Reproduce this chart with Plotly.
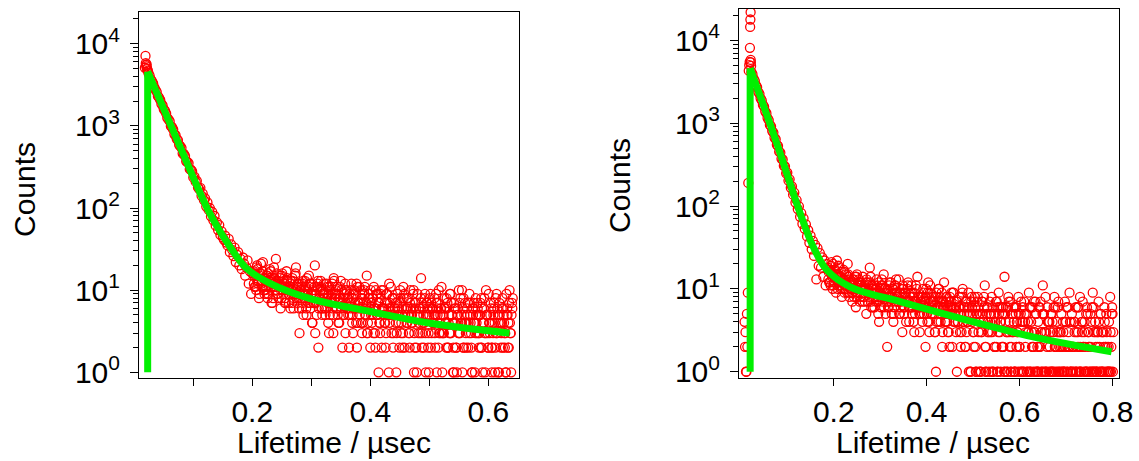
import plotly.graph_objects as go

# ---------------- data: left panel ----------------
left_peak_t = [0.0180, 0.0190, 0.0195, 0.0200, 0.0205, 0.0210, 0.0215, 0.0220, 0.0230, 0.0240]
left_peak_counts = [5100, 7100, 5800, 5500, 5300, 5600, 5000, 4900, 4700, 4400]

left_t_start = 0.026
left_t_step = 0.002
left_counts = [
    4080, 3690, 3510, 3280, 2930, 2740, 2600, 2300, 2210, 2070,
    1850, 1770, 1590, 1530, 1420, 1250, 1200, 1140, 990, 962,
    905, 790, 771, 690, 672, 588, 566, 540, 461, 455,
    430, 371, 364, 352, 297, 293, 281, 236, 241, 209,
    214, 178, 170, 176, 141, 150, 125, 131, 104, 117,
    95, 100, 79, 90, 71, 80, 61, 67, 54, 62,
    47, 52, 44, 41, 46, 38, 35, 42, 29, 36,
    31, 26, 33, 22, 27, 29, 20, 24, 18, 25,
    21, 15, 19, 23, 12, 17, 9, 16,
    17, 11, 15, 20, 12, 9, 16, 13, 22, 14,
    10, 15, 8, 13, 18, 11, 7, 14, 12, 24,
    9, 13, 11, 6, 15, 10, 12, 8, 17, 11,
    7, 12, 10, 14, 6, 9, 19, 11, 8, 3,
    10, 6, 13, 8, 11, 5, 9, 15, 7, 12,
    4, 9, 20, 7, 11, 2, 8, 13, 6, 10,
    9, 5, 12, 7, 3, 10, 8, 6, 14, 9,
    6, 11, 4, 8, 13, 7, 5, 9, 3, 10,
    8, 2, 7, 12, 5, 9, 6, 4, 11, 7,
    5, 10, 3, 7, 9, 6, 15, 4, 8, 2,
    7, 5, 11, 3, 6, 9, 1, 4, 8, 6,
    10, 4, 2, 7, 5, 12, 6, 3, 8, 5,
    6, 1, 9, 4, 7, 3, 5, 11, 2, 6,
    8, 5, 3, 10, 4, 6, 1, 7, 2, 9,
    4, 6, 14, 3, 5, 8, 1, 7, 2, 5,
    9, 3, 6, 4, 2, 7, 5, 10, 3, 6,
    1, 5, 8, 4, 6, 2, 3, 9, 5, 1,
    7, 4, 2, 6, 10, 3, 5, 1, 8, 4,
    3, 6, 2, 9, 4, 1, 5, 7, 3, 4,
    6, 2, 5, 8, 1, 4, 3, 10, 5, 2,
    4, 7, 1, 3, 6, 2, 9, 5, 1, 4,
    3, 8, 5, 2, 1, 6, 4, 10, 3, 7,
]

# extra interleaved tail channels (left)
left_tail_step = 0.002
left_tail_b_start = 0.20267
left_tail_b_counts = [
    12, 16, 10, 18, 13, 15, 21, 11, 14, 9,
    13, 9, 16, 11, 14, 7, 12, 19, 10, 13,
    12, 8, 14, 10, 16, 9, 11, 7, 13, 10,
    11, 6, 9, 13, 8, 15, 10, 7, 12, 9,
    8, 12, 5, 10, 9, 14, 7, 11, 6, 9,
    10, 7, 3, 9, 12, 6, 8, 11, 5, 9,
    6, 10, 8, 4, 11, 7, 9, 5, 13, 8,
    9, 5, 7, 11, 6, 2, 8, 10, 7, 6,
    5, 9, 6, 8, 3, 10, 7, 12, 4, 6,
    7, 4, 9, 6, 11, 5, 3, 8, 6, 10,
    4, 8, 6, 2, 9, 5, 7, 3, 10, 6,
    5, 7, 3, 9, 6, 4, 11, 5, 2, 8,
    7, 3, 6, 5, 10, 4, 2, 8, 5, 6,
    4, 8, 2, 6, 5, 9, 3, 7, 1, 5,
    6, 3, 7, 4, 2, 9, 5, 6, 3, 8,
    2, 6, 4, 8, 5, 1, 7, 3, 5, 11,
    5, 3, 6, 2, 7, 4, 9, 3, 5, 2,
    4, 6, 1, 5, 3, 8, 4, 6, 2, 7,
    2, 5, 4, 7, 3, 1, 6, 4, 8, 3,
    5, 3, 7, 2, 4, 6, 1, 5, 3, 9,
    3, 6, 2, 5, 4, 8, 3, 1, 7, 4,
    6, 2, 4, 3, 9, 5, 2, 4, 1, 6,
]
left_tail_c_start = 0.20333
left_tail_c_counts = [
    15, 11, 19, 13, 8, 16, 12, 17, 10, 14,
    11, 15, 9, 13, 17, 12, 8, 14, 11, 16,
    9, 12, 15, 8, 11, 13, 7, 10, 14, 9,
    10, 13, 7, 11, 9, 16, 8, 12, 6, 10,
    11, 7, 9, 13, 6, 10, 8, 12, 9, 4,
    7, 11, 9, 5, 13, 8, 10, 6, 9, 12,
    8, 6, 11, 9, 5, 7, 12, 3, 8, 10,
    6, 9, 4, 8, 10, 7, 5, 12, 6, 8,
    7, 5, 10, 4, 8, 6, 9, 2, 7, 11,
    6, 8, 4, 10, 5, 7, 3, 9, 6, 5,
    8, 3, 6, 10, 5, 7, 4, 9, 2, 6,
    6, 4, 9, 5, 1, 7, 5, 8, 3, 6,
    4, 7, 5, 2, 8, 6, 3, 9, 5, 4,
    6, 3, 7, 5, 4, 10, 2, 6, 5, 3,
    5, 8, 2, 6, 4, 3, 7, 5, 1, 6,
    7, 4, 5, 3, 9, 6, 2, 4, 6, 3,
    3, 6, 4, 8, 2, 5, 3, 7, 4, 1,
    6, 2, 5, 3, 7, 4, 10, 2, 5, 4,
    4, 7, 3, 5, 2, 6, 4, 1, 5, 7,
    3, 5, 2, 6, 4, 8, 3, 5, 2, 4,
    5, 2, 4, 7, 1, 3, 6, 4, 5, 2,
    4, 6, 3, 1, 5, 2, 7, 3, 5, 8,
]

left_rise_t = [0.0227, 0.0227]
left_rise_counts = [1, 4570]
left_fit_t = [0.0227, 0.0775, 0.128, 0.162, 0.19, 0.23, 0.298, 0.40, 0.502, 0.636]
left_fit_counts = [4570, 560, 86, 34, 18.5, 12.1, 7.9, 5.5, 3.95, 3.0]

# ---------------- data: right panel ----------------
right_peak_t = [0.008, 0.009, 0.010, 0.011, 0.012, 0.013, 0.014, 0.015, 0.016, 0.017,
                0.018, 0.019, 0.0195, 0.020, 0.0205, 0.021, 0.0212, 0.0215, 0.022]
right_peak_counts = [4, 2, 3, 1, 1, 5, 2, 9, 190, 4300,
                     5000, 5500, 8100, 14500, 17800, 21800, 5800, 5400, 4900]

right_t_start = 0.0225
right_t_step = 0.0025
right_counts = [
    4150, 3900, 3450, 3240, 2880, 2710, 2390, 2260, 1990, 1880,
    1660, 1580, 1390, 1320, 1150, 1090, 950, 915, 801, 770,
    664, 640, 548, 531, 452, 440, 371, 365, 305, 301,
    248, 252, 203, 210, 166, 172, 137, 145, 110, 118,
    92, 99, 74, 82, 61, 71, 53, 60, 43, 51,
    36, 44, 30, 38, 25, 34, 13, 31, 19, 27,
    18, 24, 14, 22, 11, 20,
    18, 12, 16, 21, 10, 14, 17, 9, 15, 19,
    11, 14, 8, 13, 16, 10, 12, 20, 9, 13,
    10, 7, 13, 11, 6, 15, 9, 12, 8, 11,
    14, 8, 10, 5, 12, 9, 18, 7, 11, 9,
    6, 10, 13, 8, 4, 9, 11, 7, 15, 8,
    9, 2, 7, 12, 8, 5, 10, 6, 11, 9,
    7, 13, 5, 8, 3, 10, 6, 9, 7, 12,
    4, 8, 11, 6, 9, 5, 7, 14, 6, 3,
    8, 5, 10, 7, 2, 6, 9, 4, 11, 7,
    5, 8, 3, 1, 7, 10, 6, 4, 9, 6,
    12, 4, 7, 5, 3, 8, 6, 2, 9, 5,
    6, 1, 4, 8, 5, 3, 10, 6, 2, 7,
    4, 9, 5, 1, 6, 3, 7, 2, 5, 8,
    1, 5, 3, 7, 4, 11, 2, 6, 4, 5,
    3, 8, 1, 5, 4, 2, 6, 9, 3, 4,
    5, 2, 14, 4, 1, 6, 3, 7, 2, 5,
    4, 1, 6, 3, 8, 2, 5, 1, 4, 7,
    2, 5, 3, 9, 1, 4, 6, 2, 3, 5,
    1, 4, 2, 7, 3, 11, 5, 1, 3, 6,
    4, 2, 5, 1, 3, 8, 2, 4, 6, 1,
    3, 5, 2, 1, 7, 4, 2, 3, 9, 1,
    5, 2, 4, 1, 3, 6, 2, 8, 1, 4,
    2, 4, 1, 6, 3, 2, 5, 1, 9, 3,
    4, 1, 3, 7, 2, 5, 1, 3, 6, 2,
    3, 1, 4, 8, 2, 5,
]

# extra interleaved tail channels (right)
right_tail_step = 0.0025
right_tail_b_start = 0.18833
right_tail_b_counts = [
    13, 17, 11, 15, 20, 12, 16, 14, 10, 18,
    14, 10, 12, 17, 9, 13, 11, 15, 8, 12,
    11, 13, 8, 10, 14, 9, 12, 7, 11, 10,
    8, 11, 10, 13, 7, 9, 12, 6, 10, 8,
    9, 7, 11, 5, 10, 8, 13, 9, 6, 10,
    7, 10, 6, 9, 12, 8, 4, 11, 7, 9,
    8, 5, 9, 7, 11, 6, 8, 4, 10, 7,
    6, 9, 5, 8, 3, 7, 10, 6, 8, 5,
    7, 4, 9, 6, 8, 5, 12, 3, 7, 6,
    5, 7, 3, 9, 6, 4, 8, 6, 2, 7,
    6, 4, 8, 3, 7, 5, 9, 6, 4, 5,
    3, 7, 5, 6, 2, 8, 4, 5, 7, 3,
    6, 1, 5, 7, 4, 3, 8, 1, 5, 6,
    4, 1, 3, 5, 8, 2, 1, 6, 3, 7,
    5, 3, 1, 2, 4, 7, 1, 5, 4, 6,
    2, 5, 1, 6, 3, 8, 4, 1, 5, 3,
    1, 6, 2, 3, 5, 1, 7, 4, 1, 5,
    3, 1, 4, 1, 6, 3, 2, 7, 1, 5,
    2, 1, 6, 3, 1, 5, 3, 8, 1, 4,
    1, 3, 1, 4, 6, 2, 1, 3, 7, 2,
    3, 1, 4, 1, 2, 6, 1, 2, 4, 1,
    2, 1, 3, 6, 1, 3, 1, 2, 4, 7,
    1, 2, 5, 1, 3, 1, 2, 6, 1, 1,
    3, 1, 2, 4, 1, 3, 1, 2, 4, 1,
    2, 1, 1, 3, 5, 1,
]
right_tail_c_start = 0.18917
right_tail_c_counts = [
    16, 12, 19, 14, 11, 17, 13, 22, 15, 12,
    12, 16, 10, 13, 11, 15, 9, 14, 12, 10,
    9, 12, 10, 14, 8, 11, 13, 9, 12, 7,
    10, 7, 12, 9, 11, 8, 14, 10, 6, 11,
    8, 10, 7, 12, 9, 6, 11, 8, 10, 5,
    9, 6, 11, 8, 7, 10, 5, 9, 13, 8,
    7, 9, 6, 10, 8, 5, 9, 7, 11, 6,
    8, 6, 9, 4, 7, 11, 6, 8, 5, 7,
    6, 8, 5, 7, 10, 4, 6, 9, 5, 8,
    7, 5, 8, 4, 6, 10, 5, 7, 3, 6,
    5, 8, 4, 6, 2, 7, 5, 9, 6, 4,
    7, 4, 6, 3, 5, 9, 4, 6, 2, 5,
    4, 6, 1, 8, 5, 2, 6, 1, 7, 3,
    5, 1, 7, 4, 6, 1, 5, 3, 1, 4,
    1, 6, 4, 2, 7, 1, 3, 6, 1, 2,
    6, 1, 5, 3, 1, 7, 2, 1, 3, 6,
    1, 5, 4, 1, 2, 4, 1, 6, 1, 4,
    5, 1, 3, 6, 1, 2, 1, 3, 7, 1,
    1, 6, 2, 1, 5, 1, 3, 1, 2, 4,
    4, 1, 5, 1, 1, 6, 2, 1, 3, 1,
    2, 1, 3, 1, 4, 1, 6, 2, 1, 4,
    1, 2, 4, 1, 2, 6, 1, 1, 3, 2,
    3, 1, 1, 5, 2, 1, 4, 1, 6, 1,
    2, 1, 3, 1, 5, 1, 3, 1, 2, 5,
    1, 2, 1, 1, 6, 3,
]

right_rise_t = [0.020, 0.020]
right_rise_counts = [1, 4600]
right_fit_t = [0.020, 0.0774, 0.1275, 0.156, 0.185, 0.235, 0.343, 0.486, 0.629, 0.798]
right_fit_counts = [4600, 571, 82, 32, 16.9, 10.6, 7.0, 4.2, 2.64, 1.74]

x_tick_vals_left = [0.1, 0.2, 0.3, 0.4, 0.5, 0.6]
x_tick_text_left = ["", "0.2", "", "0.4", "", "0.6"]
x_tick_vals_right = [0.2, 0.4, 0.6, 0.8]
x_tick_text_right = ["0.2", "0.4", "0.6", "0.8"]
y_tick_vals = [1, 10, 100, 1000, 10000]
y_tick_text = ["10<sup>0</sup>", "10<sup>1</sup>", "10<sup>2</sup>", "10<sup>3</sup>", "10<sup>4</sup>"]
x_title = "Lifetime / µsec"
y_title = "Counts"

# ---------------- figure ----------------
W, H = 1139, 461
FONT = "Liberation Sans, Arial, Helvetica, sans-serif"
RED = "#ff0000"
GREEN = "#00f000"


def grid(start, step, n):
    return [round(start + i * step, 5) for i in range(n)]


left_x = (left_peak_t + grid(left_t_start, left_t_step, len(left_counts))
          + grid(left_tail_b_start, left_tail_step, len(left_tail_b_counts))
          + grid(left_tail_c_start, left_tail_step, len(left_tail_c_counts)))
left_y = left_peak_counts + left_counts + left_tail_b_counts + left_tail_c_counts
right_x = (right_peak_t + grid(right_t_start, right_t_step, len(right_counts))
           + grid(right_tail_b_start, right_tail_step, len(right_tail_b_counts))
           + grid(right_tail_c_start, right_tail_step, len(right_tail_c_counts)))
right_y = right_peak_counts + right_counts + right_tail_b_counts + right_tail_c_counts

marker = dict(symbol="circle-open", size=9, color=RED, line=dict(color=RED, width=1.3))

fig = go.Figure()
for xs, ys, xa, ya in [(left_x, left_y, "x", "y"), (right_x, right_y, "x2", "y2")]:
    fig.add_trace(go.Scatter(x=xs, y=ys, mode="markers", marker=marker,
                             xaxis=xa, yaxis=ya, showlegend=False, hoverinfo="skip"))

for xs, ys, xa, ya, shape in [
    (left_rise_t, left_rise_counts, "x", "y", "linear"),
    (left_fit_t, left_fit_counts, "x", "y", "spline"),
    (right_rise_t, right_rise_counts, "x2", "y2", "linear"),
    (right_fit_t, right_fit_counts, "x2", "y2", "spline"),
]:
    fig.add_trace(go.Scatter(x=xs, y=ys, mode="lines",
                             line=dict(color=GREEN, width=7, shape=shape),
                             xaxis=xa, yaxis=ya, showlegend=False, hoverinfo="skip"))

minor_vals = [m * 10 ** d for d in range(0, 5) for m in range(2, 10)]
minor_vals = [v for v in minor_vals if v <= 20000]

common_x = dict(showline=True, mirror=True, linecolor="black", linewidth=1,
                ticks="outside", ticklen=7, tickcolor="black", showgrid=False,
                zeroline=False, tickfont=dict(size=30, color="black", family=FONT),
                automargin=False, tickmode="array")
common_y = dict(type="log", showline=True, mirror=True, linecolor="black", linewidth=1,
                ticks="outside", ticklen=8, tickcolor="black", showgrid=False,
                zeroline=False, tickfont=dict(size=30, color="black", family=FONT),
                automargin=False, tickmode="array", tickvals=y_tick_vals,
                ticktext=y_tick_text, ticklabelstandoff=4,
                minor=dict(tickmode="array", tickvals=minor_vals, ticks="outside",
                           ticklen=5, tickcolor="black", showgrid=False))

fig.update_layout(
    width=W, height=H,
    margin=dict(l=0, r=0, t=0, b=0),
    paper_bgcolor="white", plot_bgcolor="white",
    font=dict(family=FONT, color="black"),
    xaxis=dict(common_x, domain=[139 / W, 519 / W], range=[0.008, 0.652], anchor="y",
               tickvals=x_tick_vals_left, ticktext=x_tick_text_left),
    yaxis=dict(common_y, domain=[(H - 378) / H, (H - 12) / H], range=[-0.069, 4.386], anchor="x"),
    xaxis2=dict(common_x, domain=[739 / W, 1119 / W], range=[-0.004, 0.814], anchor="y2",
                tickvals=x_tick_vals_right, ticktext=x_tick_text_right),
    yaxis2=dict(common_y, domain=[(H - 377.7) / H, (H - 8.7) / H], range=[-0.072, 4.381], anchor="x2"),
)

for cx, cy in [(334, 442), (933, 442)]:
    fig.add_annotation(x=cx / W, y=1 - cy / H, xref="paper", yref="paper", text=x_title,
                       showarrow=False, xanchor="center", yanchor="middle",
                       font=dict(size=30, color="black", family=FONT))
for cx, cy in [(24, 190), (620, 186)]:
    fig.add_annotation(x=cx / W, y=1 - cy / H, xref="paper", yref="paper", text=y_title,
                       showarrow=False, xanchor="center", yanchor="middle", textangle=-90,
                       font=dict(size=30, color="black", family=FONT))

fig.write_html("out.html")
